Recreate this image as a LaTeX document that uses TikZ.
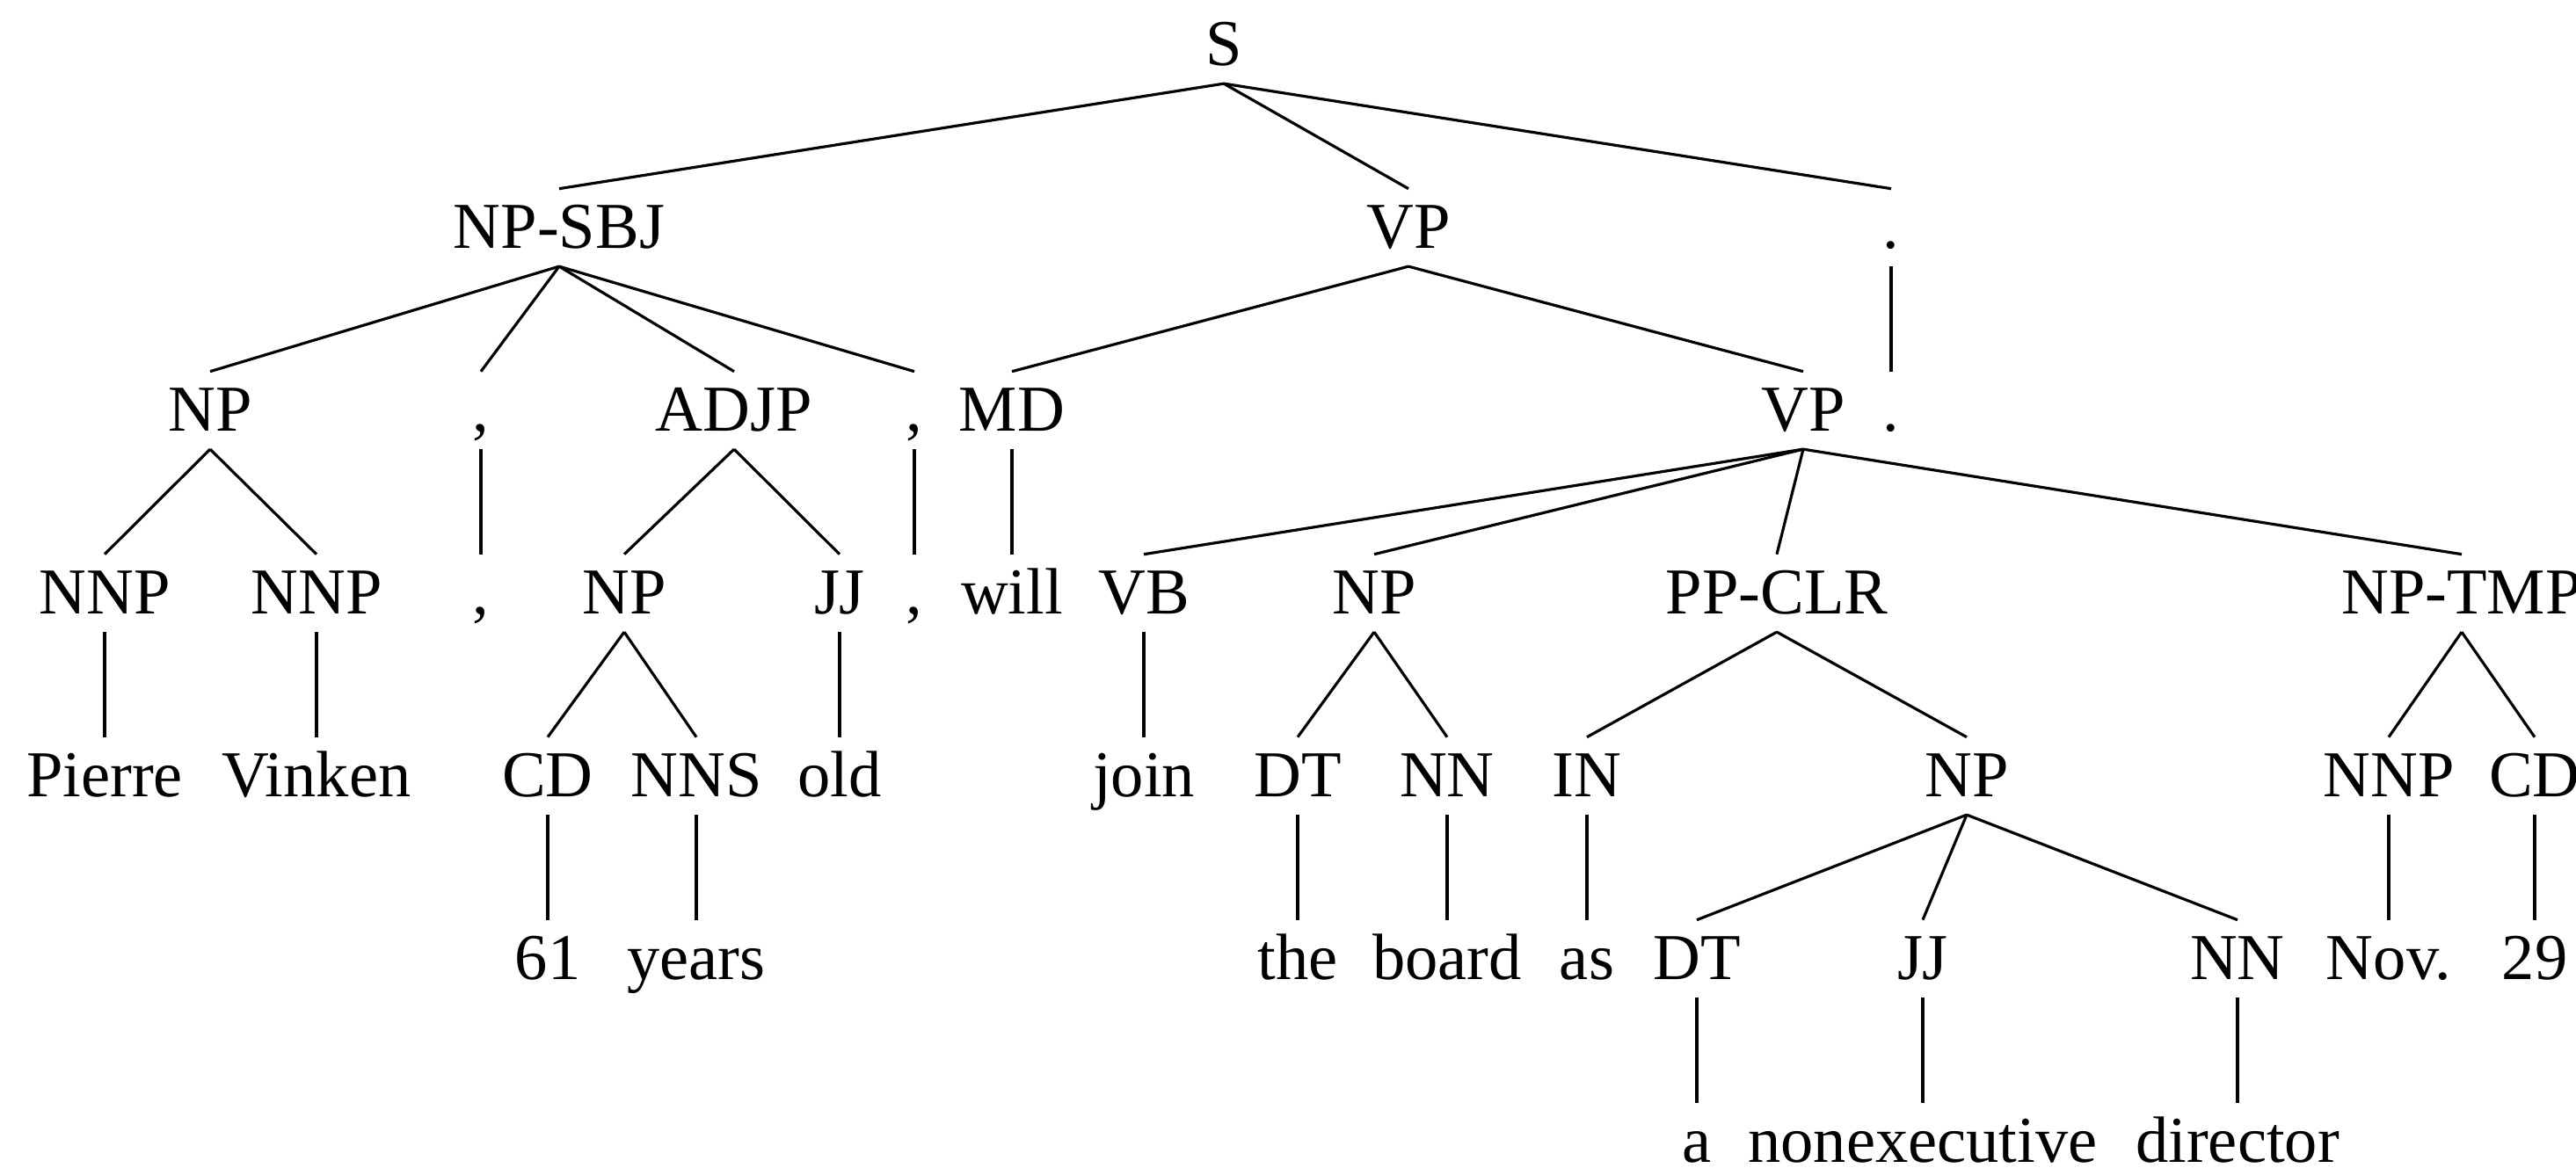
\documentclass[tikz,border=0pt]{standalone}
\usepackage{fontspec}
\setmainfont{Liberation Serif}

\begin{document}
\begin{tikzpicture}[x=1cm, y=1.04cm, font=\fontsize{10.6}{12.5}\selectfont,
    lbl/.style={anchor=base, inner xsep=0pt, inner ysep=0.28em,
                text height=0.658em, text depth=0pt},
    branch/.style={black, line width=0.45pt}]

  \useasboundingbox (0,0.356) rectangle (14.65,-6.029);

  % Level 0 and 1
  \node[lbl] (s)      at (6.96,0)   {S};
  \node[lbl] (npsbj)  at (3.18,-1)  {NP-SBJ};
  \node[lbl] (vp1)    at (8.01,-1)  {VP};
  \node[lbl] (per1)   at (10.755,-1) {.};

  % Level 2
  \node[lbl] (np1)    at (1.195,-2) {NP};
  \node[lbl] (com1)   at (2.735,-2) {,};
  \node[lbl] (adjp)   at (4.175,-2) {ADJP};
  \node[lbl] (com2)   at (5.20,-2)  {,};
  \node[lbl] (md)     at (5.755,-2) {MD};
  \node[lbl] (vp2)    at (10.255,-2) {VP};
  \node[lbl] (per2)   at (10.755,-2) {.};

  % Level 3
  \node[lbl] (nnp1)   at (0.595,-3) {NNP};
  \node[lbl] (nnp2)   at (1.80,-3)  {NNP};
  \node[lbl] (com1w)  at (2.735,-3) {,};
  \node[lbl] (np2)    at (3.55,-3)  {NP};
  \node[lbl] (jj1)    at (4.775,-3) {JJ};
  \node[lbl] (com2w)  at (5.20,-3)  {,};
  \node[lbl] (will)   at (5.755,-3) {will};
  \node[lbl] (vb)     at (6.505,-3) {VB};
  \node[lbl] (np3)    at (7.815,-3) {NP};
  \node[lbl] (ppclr)  at (10.105,-3) {PP-CLR};
  \node[lbl] (nptmp)  at (14.00,-3) {NP-TMP};

  % Level 4
  \node[lbl] (pierre) at (0.595,-4) {Pierre};
  \node[lbl] (vinken) at (1.80,-4)  {Vinken};
  \node[lbl] (cd1)    at (3.115,-4) {CD};
  \node[lbl] (nns)    at (3.96,-4)  {NNS};
  \node[lbl] (old)    at (4.775,-4) {old};
  \node[lbl] (join)   at (6.505,-4) {join};
  \node[lbl] (dt1)    at (7.38,-4)  {DT};
  \node[lbl] (nn1)    at (8.23,-4)  {NN};
  \node[lbl] (inp)    at (9.025,-4) {IN};
  \node[lbl] (np4)    at (11.185,-4) {NP};
  \node[lbl] (nnp3)   at (13.585,-4) {NNP};
  \node[lbl] (cd2)    at (14.415,-4) {CD};

  % Level 5
  \node[lbl] (sixty)  at (3.115,-5) {61};
  \node[lbl] (years)  at (3.96,-5)  {years};
  \node[lbl] (the)    at (7.38,-5)  {the};
  \node[lbl] (board)  at (8.23,-5)  {board};
  \node[lbl] (as)     at (9.025,-5) {as};
  \node[lbl] (dt2)    at (9.65,-5)  {DT};
  \node[lbl] (jj2)    at (10.935,-5) {JJ};
  \node[lbl] (nn2)    at (12.725,-5) {NN};
  \node[lbl] (nov)    at (13.585,-5) {Nov.};
  \node[lbl] (day)    at (14.415,-5) {29};

  % Level 6
  \node[lbl] (a)      at (9.65,-6)  {a};
  \node[lbl] (nonex)  at (10.935,-6) {nonexecutive};
  \node[lbl] (dir)    at (12.725,-6) {director};

  % Branches
  \foreach \a/\b in {s/npsbj, s/vp1, s/per1,
                     npsbj/np1, npsbj/com1, npsbj/adjp, npsbj/com2,
                     vp1/md, vp1/vp2, per1/per2,
                     np1/nnp1, np1/nnp2, com1/com1w, adjp/np2, adjp/jj1,
                     com2/com2w, md/will,
                     vp2/vb, vp2/np3, vp2/ppclr, vp2/nptmp,
                     nnp1/pierre, nnp2/vinken, np2/cd1, np2/nns, jj1/old,
                     vb/join, np3/dt1, np3/nn1, ppclr/inp, ppclr/np4,
                     nptmp/nnp3, nptmp/cd2,
                     cd1/sixty, nns/years, dt1/the, nn1/board, inp/as,
                     np4/dt2, np4/jj2, np4/nn2, nnp3/nov, cd2/day,
                     dt2/a, jj2/nonex, nn2/dir}
    \draw[branch] (\a.south) -- (\b.north);

\end{tikzpicture}
\end{document}
